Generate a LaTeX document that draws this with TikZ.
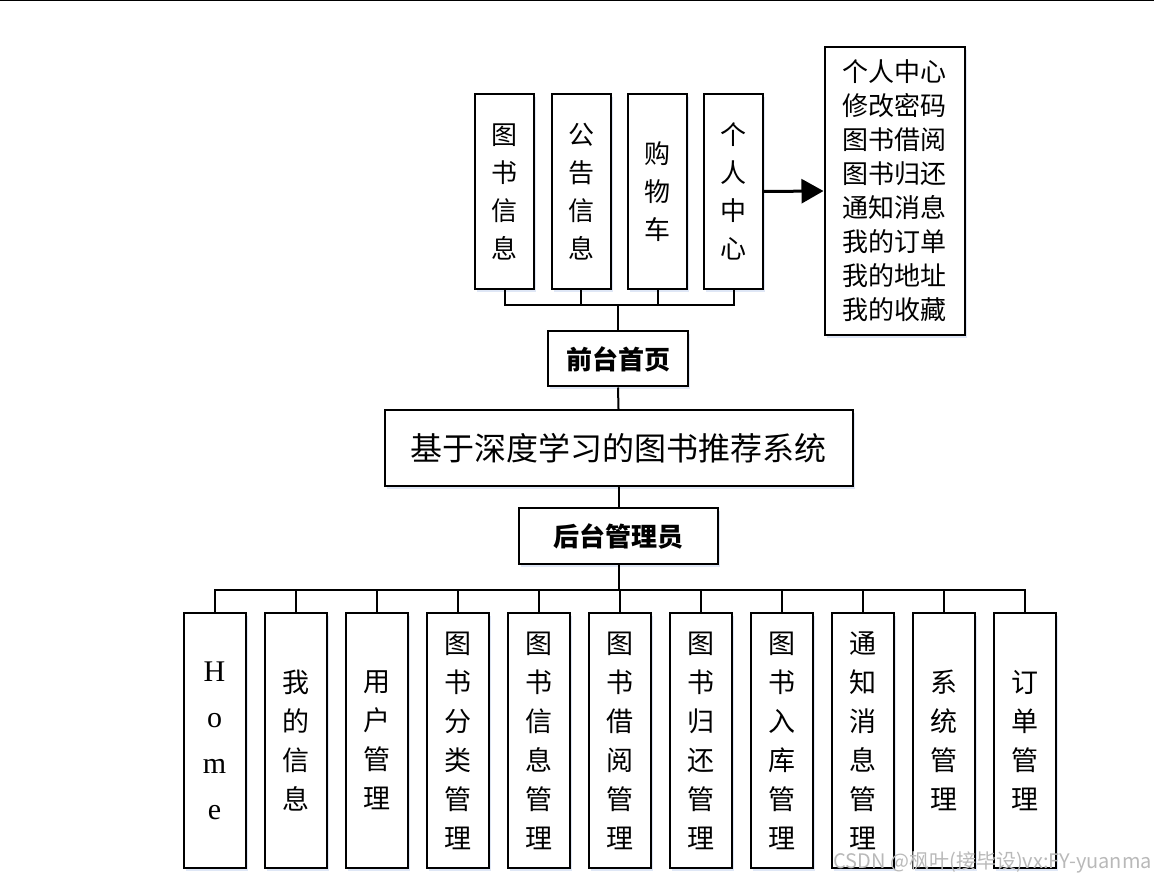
\documentclass[tikz,border=0pt]{standalone}
\usepackage{fontspec}
\newfontfamily\cjk{Noto Sans CJK SC}
\newfontfamily\romanfont{Liberation Serif}
\usetikzlibrary{arrows.meta,shadows}
\definecolor{inkc}{RGB}{0,0,0}
\definecolor{glowc}{RGB}{196,212,238}
\definecolor{markc}{RGB}{185,185,185}

\begin{document}
\begin{tikzpicture}[x=1pt, y=-1pt, line cap=butt,
  box/.style={draw=inkc, line width=2pt, fill=white, inner sep=0pt,
    drop shadow={shadow xshift=2pt, shadow yshift=-3pt, fill=glowc, opacity=0.55}},
  colbox/.style={box, minimum width=59pt, minimum height=195pt, align=center,
    font=\cjk\fontsize{26}{38}\selectfont},
  modbox/.style={box, minimum width=62pt, minimum height=255pt, align=center,
    font=\cjk\fontsize{27}{39}\selectfont},
  link/.style={draw=inkc, line width=2pt}]
  \useasboundingbox (0,0) rectangle (1154,882);

  % frame edge at the very top
  \draw[inkc, line width=1.5pt] (0,0.75) -- (1154,0.75);

  % front-end pages
  \node[colbox] (books)  at (504.5,191.5) {图\\书\\信\\息};
  \node[colbox] (notice) at (581,191.5)   {公\\告\\信\\息};
  \node[colbox] (cart)   at (657.5,191.5) {购\\物\\车};
  \node[colbox] (center) at (733.5,191.5) {个\\人\\中\\心};

  % personal centre menu
  \node[box, minimum width=140pt, minimum height=288pt, align=left,
    font=\cjk\fontsize{26}{34}\selectfont] (menu) at (894.5,191)
    {个人中心\\修改密码\\图书借阅\\图书归还\\通知消息\\我的订单\\我的地址\\我的收藏};

  % spine
  \node[box, minimum width=140pt, minimum height=55pt,
    font=\cjk\bfseries\fontsize{26}{26}\selectfont] (front) at (618,359) {前台首页};
  \node[box, minimum width=468pt, minimum height=76pt,
    font=\cjk\fontsize{32}{32}\selectfont] (system) at (618.5,448) {基于深度学习的图书推荐系统};
  \node[box, minimum width=199pt, minimum height=56pt,
    font=\cjk\bfseries\fontsize{26}{26}\selectfont] (admin) at (618.5,536) {后台管理员};

  % back-end modules
  \node[modbox, font=\romanfont\fontsize{30}{46}\selectfont] (home) at (214.5,740.5) {H\\o\\m\\e};
  \node[modbox] (myinfo)  at (295.5,740.5) {我\\的\\信\\息};
  \node[modbox] (users)   at (376.5,740.5) {用\\户\\管\\理};
  \node[modbox] (cats)    at (457.5,740.5) {图\\书\\分\\类\\管\\理};
  \node[modbox] (bookinf) at (538.5,740.5) {图\\书\\信\\息\\管\\理};
  \node[modbox] (borrow)  at (619.5,740.5) {图\\书\\借\\阅\\管\\理};
  \node[modbox] (giveback) at (700.5,740.5) {图\\书\\归\\还\\管\\理};
  \node[modbox] (stock)   at (781.5,740.5) {图\\书\\入\\库\\管\\理};
  \node[modbox] (msgs)    at (862.5,740.5) {通\\知\\消\\息\\管\\理};
  \node[modbox] (sysmgr)  at (943.5,740.5) {系\\统\\管\\理};
  \node[modbox] (orders)  at (1024.5,740.5) {订\\单\\管\\理};

  % connectors, top half
  \coordinate (topbus) at (618,305);
  \draw[link] (books.south)  |- (topbus);
  \draw[link] (notice.south) |- (topbus);
  \draw[link] (cart.south)   |- (topbus);
  \draw[link] (center.south) |- (topbus);
  \draw[link] (topbus) -- (front.north);
  \draw[link] (front.south) -- (system.north);
  \draw[link] (system.south) -- (admin.north);
  \draw[inkc, line width=3pt, -{Triangle[length=22pt, width=24pt]}] (center.east) -- (menu.west);

  % connectors, bottom half
  \coordinate (botbus) at (618.5,590);
  \draw[link] (admin.south) -- (botbus);
  \draw[link] (home.north)     |- (botbus);
  \draw[link] (myinfo.north)   |- (botbus);
  \draw[link] (users.north)    |- (botbus);
  \draw[link] (cats.north)     |- (botbus);
  \draw[link] (bookinf.north)  |- (botbus);
  \draw[link] (borrow.north)   |- (botbus);
  \draw[link] (giveback.north) |- (botbus);
  \draw[link] (stock.north)    |- (botbus);
  \draw[link] (msgs.north)     |- (botbus);
  \draw[link] (sysmgr.north)   |- (botbus);
  \draw[link] (orders.north)   |- (botbus);

  % watermark
  \node[markc, anchor=east, inner sep=0pt, font=\cjk\fontsize{20}{20}\selectfont]
    (mark) at (1152,862) {CSDN @枫叶(接毕设)vx:FY-yuanma};
\end{tikzpicture}
\end{document}
